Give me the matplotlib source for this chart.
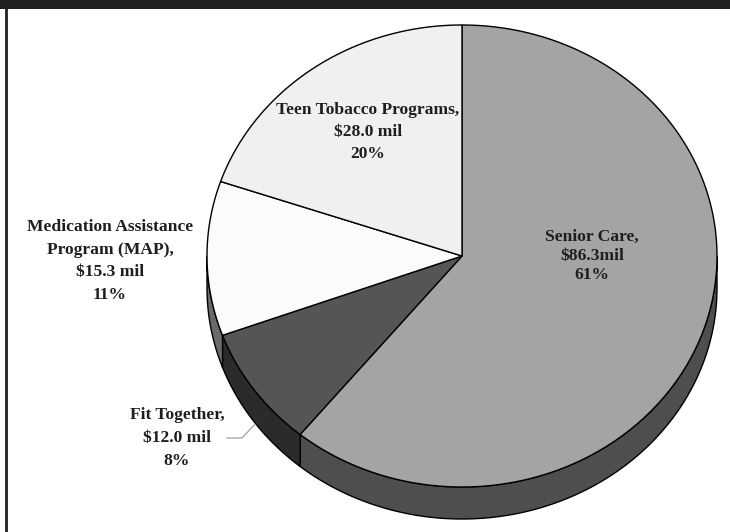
import numpy as np
import matplotlib
matplotlib.use('Agg')
import matplotlib.pyplot as plt
from matplotlib.patches import Polygon, Rectangle

# Slice data (clockwise from 12 o'clock)
names = ['Senior Care,', 'Fit Together,', 'Medication Assistance\nProgram (MAP),', 'Teen Tobacco Programs,']
amounts = [86.3, 12.0, 15.3, 28.0]
amount_text = ['$86.3mil', '$12.0 mil', '$15.3 mil', '$28.0 mil']
pct_text = ['61%', '8%', '11%', '20%']
top_colors = ['#a4a4a4', '#555555', '#fbfbfb', '#f0f0f0']
side_colors = ['#4e4e4e', '#2b2b2b', '#6a6a6a', '#8a8a8a']

# Geometry in pixel space
W, H = 730, 532
cx, cy = 462, 256
rx, ry = 255, 231
depth = 32

fig = plt.figure(figsize=(W / 100, H / 100), dpi=100)
ax = fig.add_axes([0, 0, 1, 1])
ax.set_xlim(0, W)
ax.set_ylim(H, 0)
ax.axis('off')

fracs = np.array(amounts) / sum(amounts)
starts = 90 - 360 * np.concatenate([[0], np.cumsum(fracs)[:-1]])
ends = starts - 360 * fracs


def arc(t1, t2, n=200):
    t = np.radians(np.linspace(t1, t2, n))
    return cx + rx * np.cos(t), cy - ry * np.sin(t)


# side walls (front half only, angles 180..360)
for t1, t2, sc in zip(starts, ends, side_colors):
    lo, hi = min(t1, t2), max(t1, t2)
    for shift in (0, -360, 360):
        a, b = max(lo + shift, -180), min(hi + shift, 0)
        if b > a:
            x, y = arc(a, b)
            pts = np.column_stack([np.r_[x, x[::-1]], np.r_[y, y[::-1] + depth]])
            ax.add_patch(Polygon(pts, closed=True, fc=sc, ec='black', lw=1.0, zorder=1))

# top faces
for t1, t2, tc in zip(starts, ends, top_colors):
    x, y = arc(t1, t2)
    pts = np.column_stack([np.r_[cx, x], np.r_[cy, y]])
    ax.add_patch(Polygon(pts, closed=True, fc=tc, ec='black', lw=1.0, zorder=2))

# labels
label_pos = [(592, 256), (177, 438), (110, 261), (368, 132)]
spacing = [1.23, 1.56, 1.56, 1.53]
font = dict(family='Liberation Serif', weight='bold', fontsize=12.6, color='#1e1e1e',
            ha='center', va='center', zorder=5)
for nm, am, pc, (lx, ly), ls in zip(names, amount_text, pct_text, label_pos, spacing):
    ax.text(lx, ly, f'{nm}\n{am}\n{pc}', linespacing=ls, **font)

# leader line for Fit Together
ax.plot([227, 242, 254], [438, 438, 425], color='#aaaaaa', lw=1.0, zorder=4)

# frame: top black bar and left rule
ax.add_patch(Rectangle((0, 0), W, 8.5, fc='#231f20', ec='none', zorder=6))
ax.plot([6, 6], [8, H], color='#231f20', lw=2.0, zorder=6)

fig.savefig('out.png', dpi=100, facecolor='white')
